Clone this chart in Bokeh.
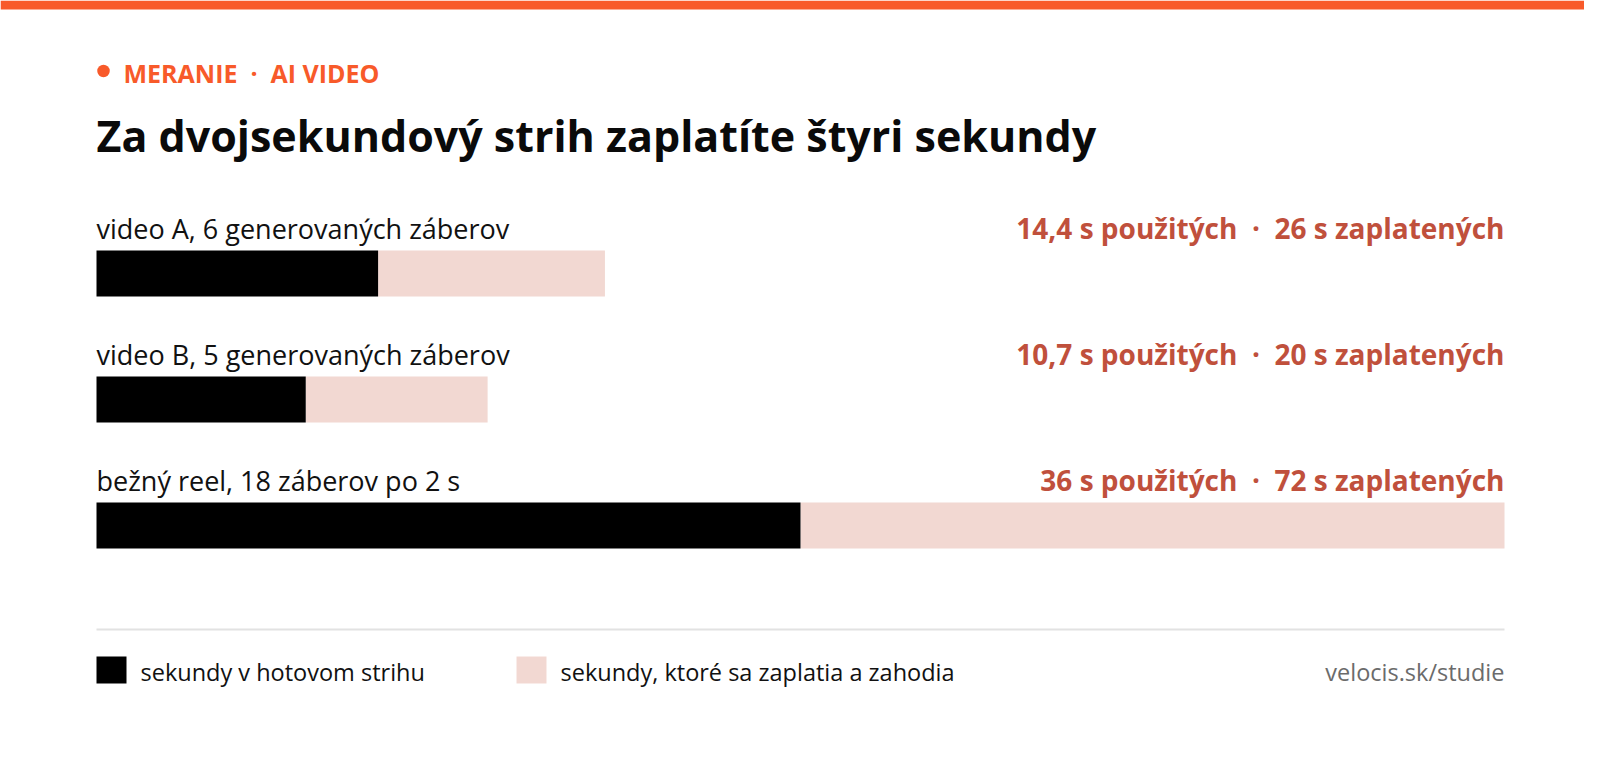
from bokeh.plotting import figure
from bokeh.models import Range1d, ColumnDataSource
from bokeh.core.properties import value
from bokeh.embed import file_html
from bokeh.resources import INLINE

# ---- data ----
rows = ["video A, 6 generovaných záberov", "video B, 5 generovaných záberov", "bežný reel, 18 záberov po 2 s"]
used_s = [14.4, 10.7, 36]
paid_s = [26, 20, 72]
legend_labels = ["sekundy v hotovom strihu", "sekundy, ktoré sa zaplatia a zahodia"]
kicker = ["MERANIE", "AI VIDEO"]
title = "Za dvojsekundový strih zaplatíte štyri sekundy"
source_note = "velocis.sk/studie"

# ---- style ----
ORANGE = "#f85a2a"
RUST = "#c0503c"
PINK = "#f2d8d2"
BLACK = "#000000"
FONT = "Open Sans"

W, H = 1584, 744
OFF = 0
X0, X1 = 96, 1504  # screen px of 0 s and max s
XMAX = max(paid_s)
PPS = (X1 - X0) / XMAX
KB = 0.45  # baseline correction factor (fraction of font size)

def sx(px):
    return (px - X0) / PPS

def sy(py):
    return py - OFF

def ty(baseline, fs):
    return sy(baseline) - KB * fs

p = figure(width=W, height=H, output_backend="svg", toolbar_location=None,
           x_range=Range1d(sx(OFF), sx(OFF + W)), y_range=Range1d(H, 0),
           min_border=0, outline_line_color=None, background_fill_color="white",
           border_fill_color="white")
p.axis.visible = False
p.grid.visible = False

def fmt(v):
    return ("%g" % v).replace(".", ",")

# top bar
p.quad(left=[sx(OFF)], right=[sx(OFF + W)], top=[sy(0)], bottom=[sy(9)], fill_color=ORANGE, line_color=None)

# kicker
FS_K = 25
p.scatter(x=[sx(103)], y=[sy(70.5)], size=12.5, marker="circle", fill_color=ORANGE, line_color=None)
p.text(x=[sx(123)], y=[ty(84, FS_K)], text=["\u00a0\u00a0·\u00a0\u00a0".join(kicker)],
       text_font=value(FONT), text_font_style="bold", text_font_size=f"{FS_K}px",
       text_color=ORANGE, text_baseline="alphabetic", text_align="left")

# title
FS_T = 43
p.text(x=[0], y=[ty(154, FS_T)], text=[title], text_font=value(FONT), text_font_style="bold",
       text_font_size=f"{FS_T}px", text_color="#0a0a0a", text_baseline="alphabetic", text_align="left")

# rows
PITCH = 126
bar_top0 = 250
bar_h = 46
base0 = 240
FS_L = 27
FS_R = 28
n = len(rows)
centers = [sy(bar_top0 + bar_h / 2 + i * PITCH) for i in range(n)]
src = ColumnDataSource(dict(
    y=centers, used=used_s, paid=paid_s, zero=[0] * n,
    base_l=[ty(base0 + i * PITCH, FS_L) for i in range(n)],
    base_r=[ty(base0 + i * PITCH, FS_R) for i in range(n)],
    label=rows,
    right_label=[f"{fmt(u)} s použitých \u00a0·\u00a0 {fmt(v)} s zaplatených" for u, v in zip(used_s, paid_s)],
    xr=[XMAX] * n,
))
p.hbar(y="y", left="used", right="paid", height=bar_h, fill_color=PINK, line_color=None, source=src)
p.hbar(y="y", left="zero", right="used", height=bar_h, fill_color=BLACK, line_color=None, source=src)
p.text(x="zero", y="base_l", text="label", source=src, text_font=value(FONT), text_font_size=f"{FS_L}px",
       text_color="#111111", text_baseline="alphabetic", text_align="left")
p.text(x="xr", y="base_r", text="right_label", source=src, text_font=value(FONT), text_font_style="bold",
       text_font_size=f"{FS_R}px", text_color=RUST, text_baseline="alphabetic", text_align="right")

# separator
p.segment(x0=[0], x1=[XMAX], y0=[sy(629)], y1=[sy(629)], line_color="#e2e2e2", line_width=2)

# legend
FS_G = 23.5
leg_x = [0, sx(516)]
p.quad(left=leg_x, right=[x + 30 / PPS for x in leg_x], top=[sy(656)] * 2, bottom=[sy(683)] * 2,
       fill_color=[BLACK, PINK], line_color=None)
p.text(x=[x + 44 / PPS for x in leg_x], y=[ty(682, FS_G)] * 2, text=legend_labels, text_font=value(FONT),
       text_font_size=f"{FS_G}px", text_color="#111111", text_baseline="alphabetic", text_align="left")
p.text(x=[XMAX], y=[ty(682, FS_G)], text=[source_note], text_font=value(FONT), text_font_size=f"{FS_G}px",
       text_color="#6b6b6b", text_baseline="alphabetic", text_align="right")

open("out.html", "w").write(file_html(p, INLINE))
